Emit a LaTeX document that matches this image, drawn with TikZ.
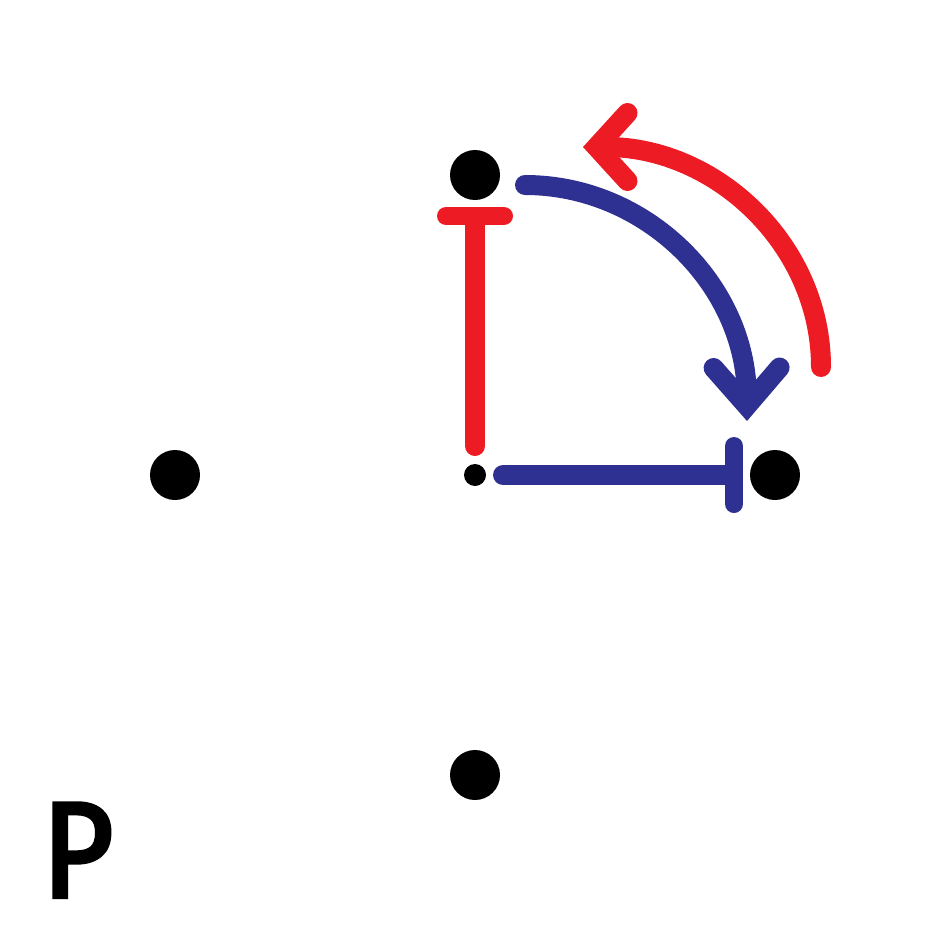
\documentclass[tikz,border=0pt]{standalone}
\usepackage{fontspec}
\newfontfamily\pfont{Fira Sans}[FakeBold=3, FakeStretch=0.9]
\usetikzlibrary{arrows.meta}
\definecolor{myred}{HTML}{ED1C24}
\definecolor{myblue}{HTML}{2E3192}
\tikzset{
  bigdot/.style={circle, fill=black, minimum size=50pt, inner sep=0pt},
  smalldot/.style={circle, fill=black, minimum size=22pt, inner sep=0pt},
  conn/.style={line width=20pt, line cap=round},
  redconn/.style={conn, draw=myred},
  blueconn/.style={conn, draw=myblue},
  barend/.style={-{Bar[width=58pt, line width=18pt, round]}},
  redhead/.style={-{Straight Barb[length=31pt, width=68pt, line width=20pt, line cap=round, line join=miter]}},
  bluehead/.style={-{Straight Barb[length=38pt, width=66pt, line width=20pt, line cap=round, line join=miter]}},
}
\begin{document}
\begin{tikzpicture}[x=1pt,y=-1pt]
\useasboundingbox (0,0) rectangle (950,950);
\node[bigdot] (n) at (475,175) {};
\node[bigdot] (w) at (175,475) {};
\node[bigdot] (e) at (775,475) {};
\node[bigdot] (s) at (475,775) {};
\node[smalldot] (c) at (475,475) {};
\coordinate (b1) at (525,185);
\coordinate (b2) at (747,421);
\coordinate (r1) at (821,367);
\coordinate (r2) at (583,147);
\draw[redconn, barend, shorten <=29pt, shorten >=32pt] (c.center) -- (n.center);
\draw[blueconn, barend, shorten <=28pt, shorten >=32pt] (c.center) -- (e.center);
\draw[blueconn, bluehead] (b1) .. controls (646,185) and (746,285) .. (b2);
\draw[redconn, redhead] (r1) .. controls (821,245) and (716,147) .. (r2);
\node[anchor=base west, inner sep=0pt, font=\pfont\fontsize{136}{136}\selectfont] (p) at (42,897) {P};
\end{tikzpicture}
\end{document}
